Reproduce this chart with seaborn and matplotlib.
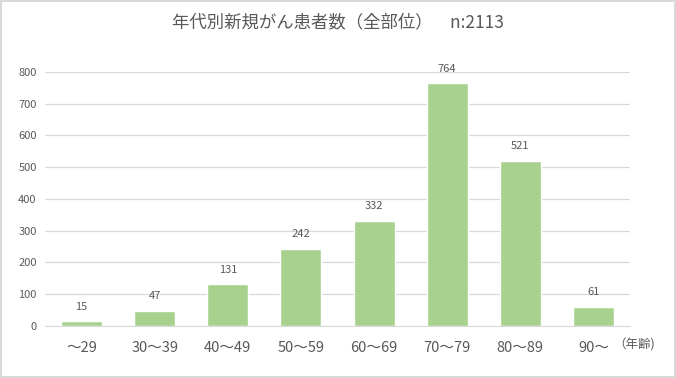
import matplotlib
matplotlib.use('Agg')
import matplotlib.pyplot as plt
import seaborn as sns
import pandas as pd

# data
age_groups = ['～29', '30～39', '40～49', '50～59', '60～69', '70～79', '80～89', '90～']
patients = [15, 47, 131, 242, 332, 764, 521, 61]

df = pd.DataFrame({'age': age_groups, 'n': patients})

sns.set_style('white')
plt.rcParams['font.family'] = ['Noto Sans CJK JP', 'DejaVu Sans']

text_color = '#595959'
bar_color = '#A9D18E'

fig = plt.figure(figsize=(6.76, 3.78), dpi=100)
fig.patch.set_edgecolor('#D9D9D9')
fig.patch.set_linewidth(1.5)
ax = fig.add_axes([0.0666, 0.1376, 0.8654, 0.672])

sns.barplot(data=df, x='age', y='n', color=bar_color, width=0.56,
            saturation=1, ax=ax)

ax.set_ylim(0, 800)
ax.set_xlim(-0.5, len(age_groups) - 0.5)
ax.set_yticks(range(0, 801, 100))
ax.yaxis.grid(True, color='#D9D9D9', linewidth=0.9)
ax.set_axisbelow(True)
for s in ['top', 'right', 'left']:
    ax.spines[s].set_visible(False)
ax.spines['bottom'].set_color('#D9D9D9')
ax.tick_params(axis='y', length=0, labelsize=8, labelcolor=text_color, pad=6)
ax.tick_params(axis='x', length=0, labelsize=10.5, labelcolor=text_color, pad=11)
ax.set_xlabel('')
ax.set_ylabel('')

# value labels
for i, v in enumerate(patients):
    ax.annotate(str(v), (i, v), xytext=(0, 7), textcoords='offset points',
                ha='center', va='bottom', fontsize=8, color=text_color)

ax.text(0.972, -0.048, '（年齢)', transform=ax.transAxes, ha='left', va='top',
        fontsize=9, color=text_color)

fig.text(0.5, 0.942, '年代別新規がん患者数（全部位）　n:2113', ha='center', va='center',
         fontsize=12.5, color=text_color)

fig.savefig('out.png', dpi=100, edgecolor=fig.get_edgecolor())
